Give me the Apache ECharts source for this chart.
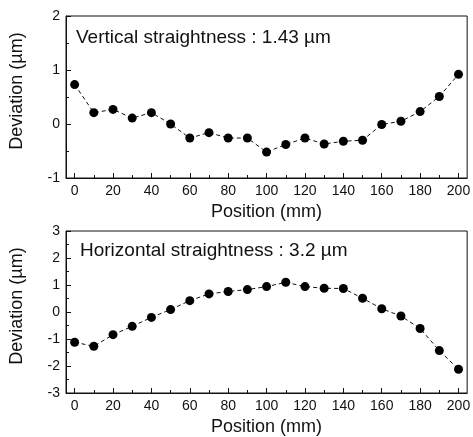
<!DOCTYPE html>
<html>
<head>
<meta charset="utf-8">
<script src="https://cdn.jsdelivr.net/npm/echarts@6/dist/echarts.min.js"></script>
<style>
  html, body { margin: 0; padding: 0; background: #fff; }
  #chart { width: 473px; height: 437px; }
</style>
</head>
<body>
<div id="chart"></div>
<script>
const positions = [0, 10, 20, 30, 40, 50, 60, 70, 80, 90, 100, 110, 120, 130, 140, 150, 160, 170, 180, 190, 200];
const verticalDev = [0.73, 0.21, 0.27, 0.11, 0.21, 0.0, -0.26, -0.16, -0.26, -0.26, -0.52, -0.38, -0.26, -0.37, -0.32, -0.30, -0.01, 0.05, 0.23, 0.51, 0.92];
const horizontalDev = [-1.12, -1.27, -0.84, -0.53, -0.20, 0.09, 0.42, 0.67, 0.76, 0.83, 0.94, 1.10, 0.94, 0.88, 0.87, 0.51, 0.12, -0.15, -0.61, -1.43, -2.12];
const majorTicks = [0, 20, 40, 60, 80, 100, 120, 140, 160, 180, 200];
const minorTicks = [10, 30, 50, 70, 90, 110, 130, 150, 170, 190];
const panelTitles = ['Vertical straightness : 1.43 \u00b5m', 'Horizontal straightness : 3.2 \u00b5m'];

const font = 'Liberation Sans, Arial, sans-serif';
const ink = '#111';

const chart = echarts.init(document.getElementById('chart'));

const grids = [
  { left: 57, top: 16, width: 413, height: 162, show: true, borderColor: ink, borderWidth: 1 },
  { left: 57, top: 231, width: 413, height: 162, show: true, borderColor: ink, borderWidth: 1 }
];

const xAxes = [];
[0, 1].forEach(i => {
  xAxes.push({
    type: 'value', gridIndex: i, min: -4.5, max: 204.5, position: 'bottom',
    name: 'Position (mm)', nameLocation: 'middle', nameGap: 25,
    nameTextStyle: { fontFamily: font, fontSize: 18, color: ink },
    axisLine: { show: true, onZero: false, lineStyle: { color: ink, width: 1 } },
    axisTick: { show: true, inside: true, length: 5, customValues: majorTicks, lineStyle: { color: ink } },
    axisLabel: { customValues: majorTicks, fontFamily: font, fontSize: 14, color: ink, margin: 6 },
    splitLine: { show: false }
  });
  xAxes.push({
    type: 'value', gridIndex: i, min: -4.5, max: 204.5, position: 'bottom',
    axisLine: { show: false, onZero: false },
    axisTick: { show: true, inside: true, length: 3, customValues: minorTicks, lineStyle: { color: ink } },
    axisLabel: { show: false },
    splitLine: { show: false }
  });
});

const yRanges = [[-1, 2], [-3, 3]];
const yAxes = yRanges.map((r, i) => ({
  type: 'value', gridIndex: i, min: r[0], max: r[1], interval: 1, position: 'left',
  name: 'Deviation (\u00b5m)', nameLocation: 'middle', nameGap: 40,
  nameTextStyle: { fontFamily: font, fontSize: 18, color: ink, padding: [0, 0, 0, 12] },
  axisLine: { show: true, onZero: false, lineStyle: { color: ink, width: 1 } },
  axisTick: { show: true, inside: true, length: 5, lineStyle: { color: ink } },
  minorTick: { show: true, splitNumber: 2, length: 3, lineStyle: { color: ink } },
  axisLabel: { fontFamily: font, fontSize: 14, color: ink, margin: 6 },
  splitLine: { show: false }
}));

const lineSeries = (data, xi, yi) => ({
  type: 'line', xAxisIndex: xi, yAxisIndex: yi,
  data: positions.map((p, k) => [p, data[k]]),
  symbol: 'circle', symbolSize: 9,
  itemStyle: { color: '#000' },
  lineStyle: { color: '#111', width: 1, type: [4, 3] },
  animation: false
});

chart.setOption({
  backgroundColor: '#fff',
  animation: false,
  grid: grids,
  xAxis: xAxes,
  yAxis: yAxes,
  title: [
    { text: panelTitles[0], left: 76, top: 28, padding: 0, textStyle: { fontFamily: font, fontSize: 19, fontWeight: 'normal', color: ink } },
    { text: panelTitles[1], left: 80, top: 241, padding: 0, textStyle: { fontFamily: font, fontSize: 19, fontWeight: 'normal', color: ink } }
  ],
  series: [
    lineSeries(verticalDev, 0, 0),
    lineSeries(horizontalDev, 2, 1)
  ]
});
</script>
</body>
</html>
